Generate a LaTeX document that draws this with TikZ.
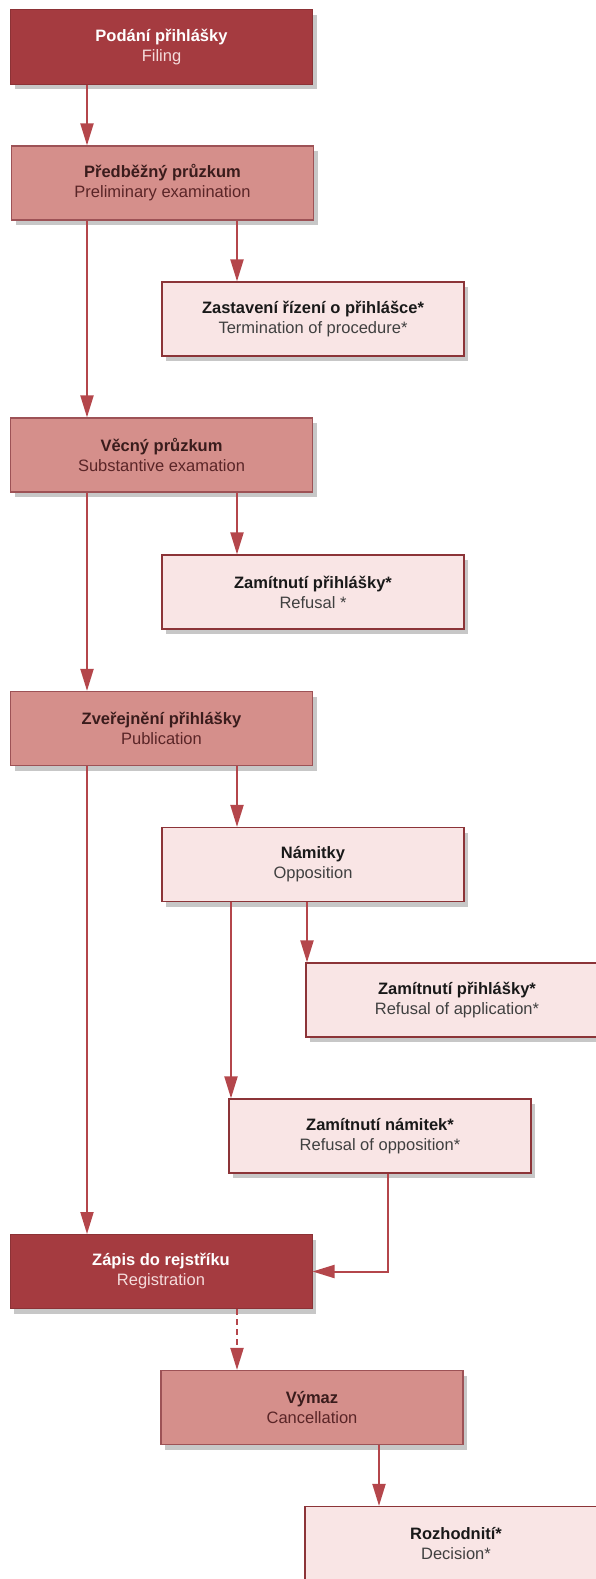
\documentclass[tikz,border=0pt]{standalone}
\usepackage{fontspec}
\setmainfont{Liberation Sans}
\usepackage{xcolor}
\usepackage{tikz}
\usetikzlibrary{arrows.meta, shadows, calc}
\definecolor{rossoScuro}{HTML}{A53B40}
\definecolor{rossoMedio}{HTML}{D58F8B}
\definecolor{rosaChiaro}{HTML}{F9E5E5}
\definecolor{bordoScuro}{HTML}{8C3438}
\definecolor{coloreFreccia}{HTML}{B4464B}
\definecolor{testoMedio}{HTML}{3A1C1C}
\newcommand{\voce}[2]{
{\bfseries #1}\\{\color{sottotitolo}#2}
}
\tikzset{
  passo/.style = {minimum width = 302pt, minimum height = 74pt, inner sep = 0pt, align = center,
    font = \fontsize{16.5}{20}\selectfont,
    drop shadow = {shadow xshift = 4pt, shadow yshift = -5pt, fill = black!55, opacity = 0.4}},
  scuro/.style = {passo, fill = rossoScuro, draw = rossoScuro!85!black, line width = 1pt, text = white,
    execute at begin node = {\colorlet{sottotitolo}{rosaChiaro!90!rossoMedio}}},
  medio/.style = {passo, fill = rossoMedio, draw = bordoScuro!85, line width = 1.2pt, text = testoMedio,
    execute at begin node = {\colorlet{sottotitolo}{testoMedio!70!rossoScuro}}},
  chiaro/.style = {passo, fill = rosaChiaro, draw = bordoScuro, line width = 1.2pt, text = black!90,
    execute at begin node = {\colorlet{sottotitolo}{black!75}}},
  collega/.style = {draw = coloreFreccia, line width = 2pt, -{Triangle[width = 13pt, length = 22pt]}}
}

\begin{document}
\begin{tikzpicture}[x = 1pt, y = -1pt]
    \useasboundingbox (0,0) rectangle (596,1579);
    \clip (0,0) rectangle (596,1579);
    % Assi verticali delle frecce
    \coordinate (asse1) at (87,0);
    \coordinate (asse2) at (237,0);
    \coordinate (asse3) at (231,0);
    \coordinate (asse4) at (307,0);
    \coordinate (asse5) at (388,0);
    \coordinate (asse6) at (379,0);
    % Colonna principale
    \node[scuro] (deposito) at (161.5,47) {\voce{Podání přihlášky}{Filing}};
    \node[medio] (preliminare) at (162.5,183) {\voce{Předběžný průzkum}{Preliminary examination}};
    \node[medio] (sostanziale) at (161.5,455) {\voce{Věcný průzkum}{Substantive examation}};
    \node[medio] (pubblicazione) at (161.5,728.5) {\voce{Zveřejnění přihlášky}{Publication}};
    \node[scuro] (registrazione) at (161,1271.5) {\voce{Zápis do rejstříku}{Registration}};
    % Rami laterali
    \node[chiaro] (terminazione) at (313,319) {\voce{Zastavení řízení o přihlášce*}{Termination of procedure*}};
    \node[chiaro] (rifiuto) at (313,592) {\voce{Zamítnutí přihlášky*}{Refusal *}};
    \node[chiaro] (opposizione) at (313,864.5) {\voce{Námitky}{Opposition}};
    \node[chiaro] (rifiutoDomanda) at (457,1000) {\voce{Zamítnutí přihlášky*}{Refusal of application*}};
    \node[chiaro] (rifiutoOpposizione) at (380,1136) {\voce{Zamítnutí námitek*}{Refusal of opposition*}};
    \node[medio] (cancellazione) at (312,1407.5) {\voce{Výmaz}{Cancellation}};
    \node[chiaro] (decisione) at (456,1543.5) {\voce{Rozhodnití*}{Decision*}};
    % Frecce
    \draw[collega] (deposito.south -| asse1) -- (preliminare.north -| asse1);
    \draw[collega] (preliminare.south -| asse1) -- (sostanziale.north -| asse1);
    \draw[collega] (sostanziale.south -| asse1) -- (pubblicazione.north -| asse1);
    \draw[collega] (pubblicazione.south -| asse1) -- (registrazione.north -| asse1);
    \draw[collega] (preliminare.south -| asse2) -- (terminazione.north -| asse2);
    \draw[collega] (sostanziale.south -| asse2) -- (rifiuto.north -| asse2);
    \draw[collega] (pubblicazione.south -| asse2) -- (opposizione.north -| asse2);
    \draw[collega] (opposizione.south -| asse3) -- (rifiutoOpposizione.north -| asse3);
    \draw[collega] (opposizione.south -| asse4) -- (rifiutoDomanda.north -| asse4);
    \draw[collega] (rifiutoOpposizione.south -| asse5) |- (registrazione.east);
    \draw[collega, dash pattern = on 6pt off 4pt] (registrazione.south -| asse2) -- (cancellazione.north -| asse2);
    \draw[collega] (cancellazione.south -| asse6) -- (decisione.north -| asse6);
\end{tikzpicture}
\end{document}
